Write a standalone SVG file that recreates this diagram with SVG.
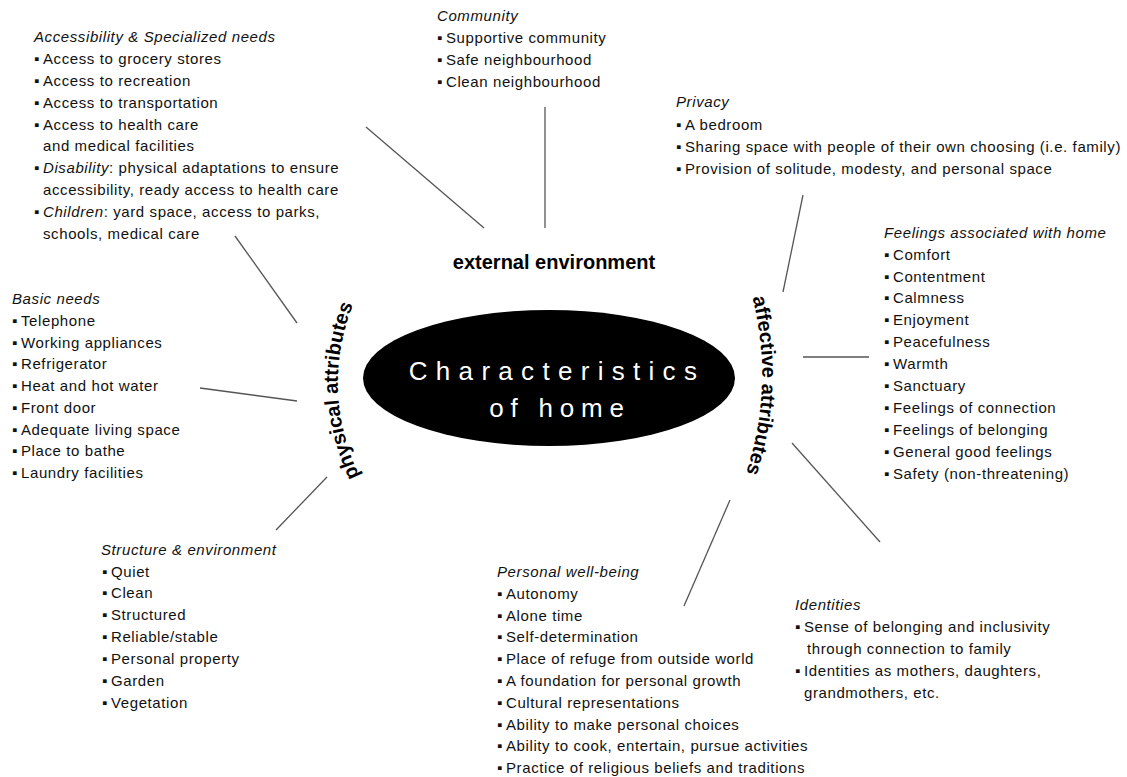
<svg xmlns="http://www.w3.org/2000/svg" width="1127" height="777" viewBox="0 0 1127 777">
<style>
.t{font-family:"Liberation Sans",Arial,sans-serif;font-size:15px;letter-spacing:0.6px;fill:#111}
.i{font-style:italic}
.lbl{font-family:"Liberation Sans",Arial,sans-serif;font-size:20px;font-weight:bold;fill:#000}
.c{stroke:#555;stroke-width:1.3;fill:none}
.ct{font-family:"Liberation Sans",Arial,sans-serif;font-size:26px;fill:#fff;letter-spacing:8.3px}
</style>
<defs>
<path id="leftArc" d="M372,500 Q308,390 364,280"/>
<path id="rightArc" d="M744,270 Q784,385 736,500"/>
</defs>
<rect width="1127" height="777" fill="#fff"/>
<g id="connectors">
<line class="c" x1="366" y1="127" x2="484" y2="228"/>
<line class="c" x1="545" y1="107" x2="545" y2="228"/>
<line class="c" x1="803" y1="195" x2="783" y2="292"/>
<line class="c" x1="803" y1="357" x2="869" y2="357"/>
<line class="c" x1="792" y1="443" x2="880" y2="542"/>
<line class="c" x1="730" y1="500" x2="684" y2="606"/>
<line class="c" x1="327" y1="477" x2="276" y2="530"/>
<line class="c" x1="200" y1="388" x2="297" y2="401"/>
<line class="c" x1="235" y1="236" x2="297" y2="323"/>
</g>
<g id="center">
<ellipse cx="549" cy="378" rx="186" ry="68" fill="#000"/>
<text class="ct" x="557" y="380" text-anchor="middle">Characteristics</text>
<text class="ct" x="560" y="417" text-anchor="middle" style="letter-spacing:6.8px">of home</text>
</g>
<g id="label-external">
<text class="lbl" x="554" y="269" text-anchor="middle">external environment</text>
</g>
<g id="label-physical">
<text class="lbl"><textPath href="#leftArc" startOffset="50%" text-anchor="middle">physical attributes</textPath></text>
</g>
<g id="label-affective">
<text class="lbl"><textPath href="#rightArc" startOffset="50%" text-anchor="middle">affective attributes</textPath></text>
</g>
<g id="accessibility">
<text class="t">
<tspan class="i" x="34" y="42">Accessibility &amp; Specialized needs</tspan>
<tspan x="34" y="64">▪</tspan><tspan x="43">Access to grocery stores</tspan>
<tspan x="34" y="86">▪</tspan><tspan x="43">Access to recreation</tspan>
<tspan x="34" y="108">▪</tspan><tspan x="43">Access to transportation</tspan>
<tspan x="34" y="130">▪</tspan><tspan x="43">Access to health care</tspan>
<tspan x="43" y="151">and medical facilities</tspan>
<tspan x="34" y="173">▪</tspan><tspan x="43" class="i">Disability</tspan><tspan>: physical adaptations to ensure</tspan>
<tspan x="43" y="195">accessibility, ready access to health care</tspan>
<tspan x="34" y="217">▪</tspan><tspan x="43" class="i">Children</tspan><tspan>: yard space, access to parks,</tspan>
<tspan x="43" y="239">schools, medical care</tspan>
</text>
</g>
<g id="community">
<text class="t">
<tspan class="i" x="437" y="21">Community</tspan>
<tspan x="437" y="43">▪</tspan><tspan x="446">Supportive community</tspan>
<tspan x="437" y="65">▪</tspan><tspan x="446">Safe neighbourhood</tspan>
<tspan x="437" y="87">▪</tspan><tspan x="446">Clean neighbourhood</tspan>
</text>
</g>
<g id="privacy">
<text class="t">
<tspan class="i" x="676" y="107">Privacy</tspan>
<tspan x="676" y="130">▪</tspan><tspan x="685">A bedroom</tspan>
<tspan x="676" y="152">▪</tspan><tspan x="685">Sharing space with people of their own choosing (i.e. family)</tspan>
<tspan x="676" y="174">▪</tspan><tspan x="685">Provision of solitude, modesty, and personal space</tspan>
</text>
</g>
<g id="feelings">
<text class="t">
<tspan class="i" x="884" y="238">Feelings associated with home</tspan>
<tspan x="884" y="260">▪</tspan><tspan x="893">Comfort</tspan>
<tspan x="884" y="282">▪</tspan><tspan x="893">Contentment</tspan>
<tspan x="884" y="303">▪</tspan><tspan x="893">Calmness</tspan>
<tspan x="884" y="325">▪</tspan><tspan x="893">Enjoyment</tspan>
<tspan x="884" y="347">▪</tspan><tspan x="893">Peacefulness</tspan>
<tspan x="884" y="369">▪</tspan><tspan x="893">Warmth</tspan>
<tspan x="884" y="391">▪</tspan><tspan x="893">Sanctuary</tspan>
<tspan x="884" y="413">▪</tspan><tspan x="893">Feelings of connection</tspan>
<tspan x="884" y="435">▪</tspan><tspan x="893">Feelings of belonging</tspan>
<tspan x="884" y="457">▪</tspan><tspan x="893">General good feelings</tspan>
<tspan x="884" y="479">▪</tspan><tspan x="893">Safety (non-threatening)</tspan>
</text>
</g>
<g id="identities">
<text class="t">
<tspan class="i" x="795" y="610">Identities</tspan>
<tspan x="795" y="632">▪</tspan><tspan x="804">Sense of belonging and inclusivity</tspan>
<tspan x="807" y="654">through connection to family</tspan>
<tspan x="795" y="676">▪</tspan><tspan x="804">Identities as mothers, daughters,</tspan>
<tspan x="804" y="698">grandmothers, etc.</tspan>
</text>
</g>
<g id="wellbeing">
<text class="t">
<tspan class="i" x="497" y="577">Personal well-being</tspan>
<tspan x="497" y="599">▪</tspan><tspan x="506">Autonomy</tspan>
<tspan x="497" y="621">▪</tspan><tspan x="506">Alone time</tspan>
<tspan x="497" y="642">▪</tspan><tspan x="506">Self-determination</tspan>
<tspan x="497" y="664">▪</tspan><tspan x="506">Place of refuge from outside world</tspan>
<tspan x="497" y="686">▪</tspan><tspan x="506">A foundation for personal growth</tspan>
<tspan x="497" y="708">▪</tspan><tspan x="506">Cultural representations</tspan>
<tspan x="497" y="730">▪</tspan><tspan x="506">Ability to make personal choices</tspan>
<tspan x="497" y="751">▪</tspan><tspan x="506">Ability to cook, entertain, pursue activities</tspan>
<tspan x="497" y="773">▪</tspan><tspan x="506">Practice of religious beliefs and traditions</tspan>
</text>
</g>
<g id="structure">
<text class="t">
<tspan class="i" x="101" y="555">Structure &amp; environment</tspan>
<tspan x="102" y="577">▪</tspan><tspan x="111">Quiet</tspan>
<tspan x="102" y="598">▪</tspan><tspan x="111">Clean</tspan>
<tspan x="102" y="620">▪</tspan><tspan x="111">Structured</tspan>
<tspan x="102" y="642">▪</tspan><tspan x="111">Reliable/stable</tspan>
<tspan x="102" y="664">▪</tspan><tspan x="111">Personal property</tspan>
<tspan x="102" y="686">▪</tspan><tspan x="111">Garden</tspan>
<tspan x="102" y="708">▪</tspan><tspan x="111">Vegetation</tspan>
</text>
</g>
<g id="basic">
<text class="t">
<tspan class="i" x="12" y="304">Basic needs</tspan>
<tspan x="12" y="326">▪</tspan><tspan x="21">Telephone</tspan>
<tspan x="12" y="348">▪</tspan><tspan x="21">Working appliances</tspan>
<tspan x="12" y="369">▪</tspan><tspan x="21">Refrigerator</tspan>
<tspan x="12" y="391">▪</tspan><tspan x="21">Heat and hot water</tspan>
<tspan x="12" y="413">▪</tspan><tspan x="21">Front door</tspan>
<tspan x="12" y="435">▪</tspan><tspan x="21">Adequate living space</tspan>
<tspan x="12" y="456">▪</tspan><tspan x="21">Place to bathe</tspan>
<tspan x="12" y="478">▪</tspan><tspan x="21">Laundry facilities</tspan>
</text>
</g>
</svg>
